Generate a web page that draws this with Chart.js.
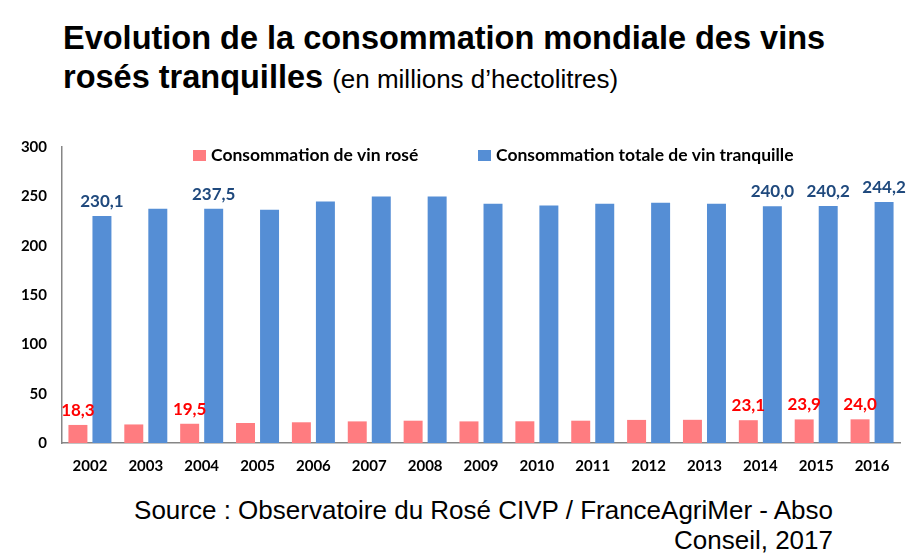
<!DOCTYPE html>
<html>
<head>
<meta charset="utf-8">
<script src="https://cdn.jsdelivr.net/npm/chart.js@4/dist/chart.umd.min.js"></script>
<style>
  body { margin: 0; width: 916px; height: 557px; background: #fff; position: relative; overflow: hidden; }
  .title { position: absolute; left: 63px; top: 19px; font-family: "Liberation Sans", Arial, sans-serif; font-weight: bold; font-size: 32.5px; line-height: 39px; color: #000; }
  .title .sub { font-weight: normal; font-size: 26px; }
  .source { position: absolute; right: 83px; top: 495px; font-family: "Liberation Sans", Arial, sans-serif; font-size: 26px; line-height: 30px; text-align: right; color: #000; }
  #wrap { position: absolute; left: 0; top: 130px; width: 916px; height: 350px; }
</style>
</head>
<body>
<div class="title">Evolution de la consommation mondiale des vins<br>rosés tranquilles <span class="sub">(en millions d’hectolitres)</span></div>
<div id="wrap"><canvas id="chart"></canvas></div>
<div class="source">Source : Observatoire du Rosé CIVP / FranceAgriMer - Abso<br>Conseil, 2017</div>
<script>
// données (millions d'hectolitres)
const years = ['2002', '2003', '2004', '2005', '2006', '2007', '2008', '2009', '2010', '2011', '2012', '2013', '2014', '2015', '2016'];
const roseValues = [18.3, 18.8, 19.5, 20.3, 21.0, 21.9, 22.6, 21.9, 22.0, 22.6, 23.4, 23.5, 23.1, 23.9, 24.0];
const totalValues = [230.1, 237.4, 237.5, 236.5, 244.8, 249.9, 249.8, 242.5, 240.8, 242.5, 243.4, 242.5, 240.0, 240.2, 244.2];
const yTicks = [0, 50, 100, 150, 200, 250, 300];
// années avec étiquette de valeur
const labelledYears = ['2002', '2004', '2014', '2015', '2016'];
const seriesNames = ['Consommation de vin rosé', 'Consommation totale de vin tranquille'];

const ROSE = '#FF7C80';
const BLUE = '#558ED5';
const FONT = 'Lato, "Open Sans", sans-serif';

// étiquettes de valeurs au-dessus des barres
const valueLabels = {
    id: 'valueLabels',
    afterDatasetsDraw(chart) {
        const ctx = chart.ctx;
        const colors = ['#FF0000', '#1F497D'];
        ctx.save();
        ctx.font = 'bold 17px ' + FONT;
        ctx.textAlign = 'center';
        ctx.textBaseline = 'bottom';
        chart.data.datasets.forEach((ds, di) => {
            const meta = chart.getDatasetMeta(di);
            meta.data.forEach((bar, i) => {
                if (!labelledYears.includes(chart.data.labels[i])) return;
                ctx.fillStyle = colors[di];
                const txt = ds.data[i].toFixed(1).replace('.', ',');
                ctx.fillText(txt, bar.x, bar.y - 6);
            });
        });
        ctx.restore();
    }
};

// légende dessinée dans la zone du graphique
const innerLegend = {
    id: 'innerLegend',
    afterDraw(chart) {
        const ctx = chart.ctx;
        const top = chart.chartArea.top;
        const xs = [193, 478];
        ctx.save();
        ctx.font = 'bold 17.5px ' + FONT;
        ctx.textBaseline = 'middle';
        chart.data.datasets.forEach((ds, di) => {
            ctx.fillStyle = ds.backgroundColor;
            ctx.fillRect(xs[di], top + 3, 13, 11);
            ctx.fillStyle = '#000';
            ctx.fillText(ds.label, xs[di] + 18, top + 8);
        });
        ctx.restore();
    }
};

new Chart(document.getElementById('chart'), {
    type: 'bar',
    data: {
        labels: years,
        datasets: [
            { label: seriesNames[0], data: roseValues, backgroundColor: ROSE },
            { label: seriesNames[1], data: totalValues, backgroundColor: BLUE }
        ]
    },
    options: {
        responsive: true,
        maintainAspectRatio: false,
        animation: false,
        categoryPercentage: 0.86,
        barPercentage: 0.79,
        layout: { padding: { left: 0, right: 16, top: 17, bottom: 0 } },
        plugins: {
            legend: { display: false },
            tooltip: { enabled: false }
        },
        scales: {
            x: {
                grid: { display: false, drawTicks: false },
                border: { color: '#868686', width: 1.5 },
                ticks: { color: '#000', font: { family: FONT, weight: 'bold', size: 15 }, padding: 14 },
                afterFit: s => { s.height = 37; }
            },
            y: {
                min: 0,
                max: 300,
                afterBuildTicks: s => { s.ticks = yTicks.map(v => ({ value: v })); },
                grid: { display: false, drawTicks: false },
                border: { color: '#868686', width: 1.5 },
                ticks: { color: '#000', font: { family: FONT, weight: 'bold', size: 15 }, padding: 15 },
                // la marge des étiquettes ne doit pas repousser le haut du graphique
                afterFit: s => { s.width = 62; s.paddingTop = 0; s.paddingBottom = 0; }
            }
        }
    },
    plugins: [valueLabels, innerLegend]
});
</script>
</body>
</html>
